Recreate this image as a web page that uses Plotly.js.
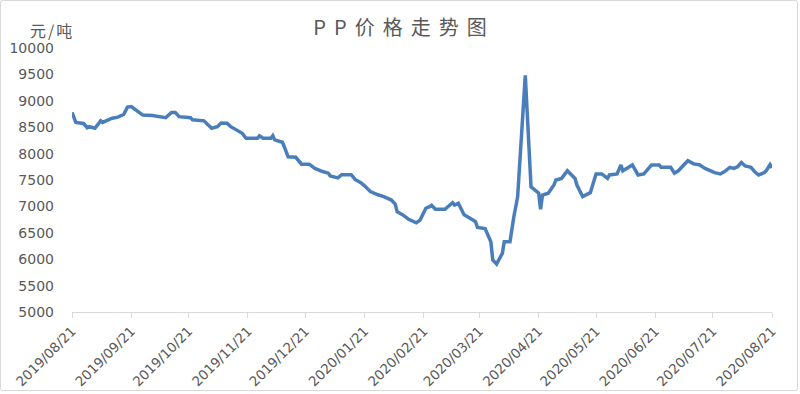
<!DOCTYPE html>
<html>
<head>
<meta charset="utf-8">
<script src="https://cdn.plot.ly/plotly-3.0.1.min.js"></script>
<style>
  html, body { margin: 0; padding: 0; background: #ffffff; }
  #chart { position: absolute; left: 0; top: 0; width: 800px; height: 394px; }
  #frame { position: absolute; left: 0; top: 0; width: 796px; height: 389px; border: 1px solid #d9d9d9; border-radius: 2px; pointer-events: none; }
  .gtitle { letter-spacing: 8px; }
  .annotation-text { letter-spacing: 2px; }
</style>
</head>
<body>
<div id="chart"></div>
<div id="frame"></div>
<script>
// Trading dates and PP prices in 元/吨
const dates = [
  '2019-08-21','2019-08-22','2019-08-23','2019-08-27','2019-08-29','2019-08-30',
  '2019-09-02','2019-09-05','2019-09-06','2019-09-11','2019-09-14','2019-09-17',
  '2019-09-19','2019-09-21','2019-09-24','2019-09-27','2019-10-02','2019-10-07',
  '2019-10-09','2019-10-12','2019-10-14','2019-10-16','2019-10-22','2019-10-23',
  '2019-10-28','2019-10-29','2019-11-02','2019-11-05','2019-11-07','2019-11-10',
  '2019-11-12','2019-11-15','2019-11-18','2019-11-20','2019-11-26','2019-11-27',
  '2019-11-29','2019-12-03','2019-12-04','2019-12-05','2019-12-09','2019-12-10',
  '2019-12-12','2019-12-16','2019-12-19','2019-12-23','2019-12-26','2019-12-30',
  '2020-01-02','2020-01-03','2020-01-07','2020-01-09','2020-01-14','2020-01-16',
  '2020-01-19','2020-01-21','2020-01-24','2020-01-28','2020-01-31','2020-02-04',
  '2020-02-06','2020-02-07','2020-02-10','2020-02-13','2020-02-17','2020-02-19',
  '2020-02-22','2020-02-24','2020-02-25','2020-02-27','2020-03-03','2020-03-07',
  '2020-03-08','2020-03-10','2020-03-13','2020-03-17','2020-03-19','2020-03-20',
  '2020-03-24','2020-03-27','2020-03-28','2020-03-30','2020-04-02','2020-04-03',
  '2020-04-06','2020-04-08','2020-04-10','2020-04-14','2020-04-17','2020-04-18',
  '2020-04-21','2020-04-22','2020-04-23','2020-04-26','2020-04-29','2020-04-30',
  '2020-05-03','2020-05-06','2020-05-08','2020-05-10','2020-05-11','2020-05-14',
  '2020-05-18','2020-05-21','2020-05-24','2020-05-27','2020-05-28','2020-06-01',
  '2020-06-03','2020-06-04','2020-06-09','2020-06-12','2020-06-15','2020-06-19',
  '2020-06-23','2020-06-24','2020-06-29','2020-07-01','2020-07-03','2020-07-06',
  '2020-07-08','2020-07-11','2020-07-14','2020-07-17','2020-07-20','2020-07-22',
  '2020-07-25','2020-07-27','2020-07-30','2020-08-01','2020-08-03','2020-08-05',
  '2020-08-07','2020-08-10','2020-08-12','2020-08-14','2020-08-17','2020-08-18',
  '2020-08-20','2020-08-21'
];
const prices = [
  8780, 8700, 8590, 8570, 8490, 8510,
  8480, 8620, 8590, 8670, 8690, 8740,
  8880, 8890, 8810, 8730, 8720, 8680,
  8680, 8780, 8780, 8700, 8680, 8640,
  8630, 8620, 8480, 8510, 8580, 8575,
  8510, 8450, 8385, 8290, 8290, 8335,
  8290, 8290, 8340, 8260, 8215, 8130,
  7940, 7930, 7800, 7800, 7720, 7660,
  7630, 7575, 7540, 7600, 7600, 7510,
  7450, 7390, 7280, 7220, 7185, 7120,
  7045, 6900, 6840, 6755, 6690, 6740,
  6965, 6995, 7020, 6945, 6945, 7070,
  7025, 7060, 6840, 6755, 6710, 6600,
  6580, 6330, 5985, 5910, 6110, 6330,
  6330, 6800, 7180, 9480, 7370, 7340,
  7250, 6945, 7215, 7250, 7405, 7500,
  7530, 7675, 7595, 7530, 7405, 7185,
  7260, 7615, 7615, 7530, 7595, 7615,
  7785, 7675, 7785, 7595, 7615, 7785,
  7785, 7740, 7740, 7630, 7675, 7785,
  7865, 7805, 7790, 7720, 7675, 7640,
  7615, 7655, 7740, 7720, 7750, 7830,
  7765, 7740, 7655, 7595, 7640, 7675,
  7790, 7730
];
const tickDates = [
  '2019-08-21','2019-09-21','2019-10-21','2019-11-21','2019-12-21','2020-01-21',
  '2020-02-21','2020-03-21','2020-04-21','2020-05-21','2020-06-21','2020-07-21','2020-08-21'
];
const tickLabels = [
  '2019/08/21','2019/09/21','2019/10/21','2019/11/21','2019/12/21','2020/01/21',
  '2020/02/21','2020/03/21','2020/04/21','2020/05/21','2020/06/21','2020/07/21','2020/08/21'
];
const yTicks = [5000,5500,6000,6500,7000,7500,8000,8500,9000,9500,10000];
const titleText = 'PP价格走势图';
const unitText = '元/吨';

const FONT = 'DejaVu Sans, Noto Sans CJK SC, sans-serif';
const GREY = '#595959';

const trace = {
  x: dates, y: prices, type: 'scatter', mode: 'lines',
  line: { color: '#4a7ebb', width: 3.5 },
  hoverinfo: 'x+y'
};

const layout = {
  width: 800, height: 394,
  margin: { l: 72, r: 28, t: 48, b: 82 },
  paper_bgcolor: '#ffffff', plot_bgcolor: '#ffffff',
  showlegend: false,
  title: { text: titleText, x: 0.505, xref: 'container', xanchor: 'center', y: 0.93, yref: 'container', yanchor: 'middle',
           font: { family: 'Noto Sans CJK SC, DejaVu Sans, sans-serif', size: 20, color: GREY } },
  xaxis: {
    type: 'date', range: ['2019-08-21', '2020-08-21'],
    tickmode: 'array', tickvals: tickDates, ticktext: tickLabels,
    tickangle: -45, tickfont: { family: FONT, size: 13.5, color: GREY },
    showgrid: false, zeroline: false, showline: true, linecolor: '#d9d9d9', linewidth: 1,
    ticks: 'outside', ticklen: 5, tickcolor: '#d9d9d9', tickwidth: 1
  },
  yaxis: {
    range: [5000, 10000], tickmode: 'array', tickvals: yTicks,
    ticktext: yTicks.map(String),
    tickfont: { family: FONT, size: 14, color: GREY },
    showgrid: false, zeroline: false, showline: false, ticks: '',
    ticklabelstandoff: 17
  },
  annotations: [{
    text: unitText, xref: 'paper', yref: 'paper', x: -0.063, y: 1.068,
    xanchor: 'left', yanchor: 'middle', showarrow: false,
    font: { family: 'Noto Sans CJK SC, DejaVu Sans, sans-serif', size: 16, color: GREY }
  }]
};

Plotly.newPlot('chart', [trace], layout, { displayModeBar: false, staticPlot: true });
</script>
</body>
</html>
